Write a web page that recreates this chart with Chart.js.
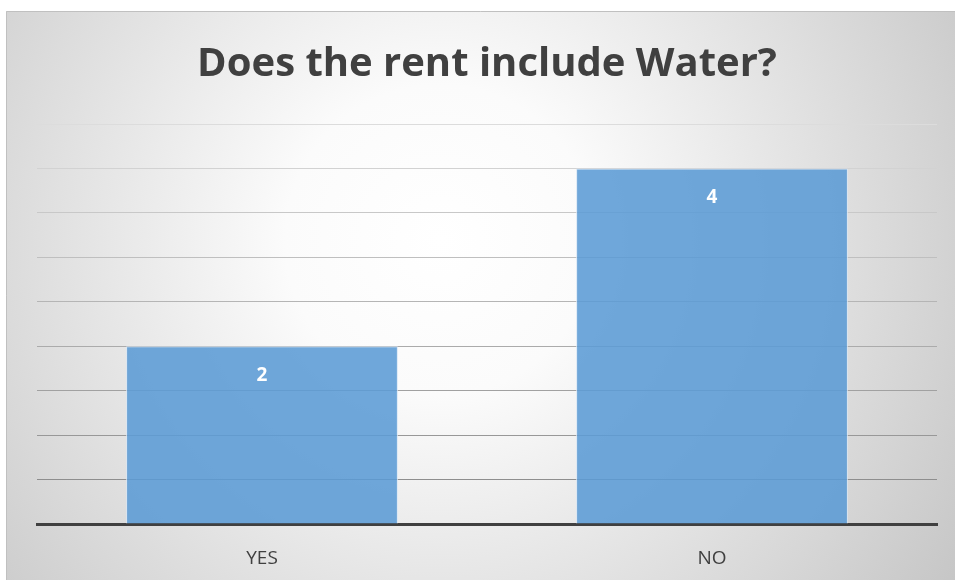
<!DOCTYPE html>
<html>
<head>
<meta charset="utf-8">
<script src="https://cdn.jsdelivr.net/npm/chart.js@4/dist/chart.umd.min.js"></script>
<style>
  html, body { margin: 0; padding: 0; background: #fff; }
  #wrap { width: 955px; height: 580px; }
</style>
</head>
<body>
<div id="wrap"><canvas id="grafico"></canvas></div>
<script>
const categorias = ['YES', 'NO'];
const respuestas = [2, 4];
const titulo = 'Does the rent include Water?';

// fondo con degradado radial y borde fino arriba/izquierda
const fondo = {
    id: 'fondo',
    beforeDraw(chart) {
        const ctx = chart.ctx;
        const w = chart.width, h = chart.height;
        ctx.save();
        ctx.fillStyle = '#ffffff';
        ctx.fillRect(0, 0, w, h);
        const g = ctx.createRadialGradient(440, 240, 0, 440, 240, 620);
        g.addColorStop(0, '#ffffff');
        g.addColorStop(0.25, '#fbfbfb');
        g.addColorStop(1, '#c6c6c6');
        ctx.fillStyle = g;
        ctx.fillRect(6, 11, w - 6, h - 11);
        ctx.strokeStyle = '#c0c0c0';
        ctx.lineWidth = 1;
        ctx.beginPath();
        ctx.moveTo(6.5, h);
        ctx.lineTo(6.5, 11.5);
        ctx.lineTo(w, 11.5);
        ctx.stroke();
        ctx.restore();
    }
};

// valor dentro de cada barra, cerca del borde superior
const etiquetas = {
    id: 'etiquetas',
    afterDatasetsDraw(chart) {
        const ctx = chart.ctx;
        const meta = chart.getDatasetMeta(0);
        ctx.save();
        ctx.fillStyle = '#ffffff';
        ctx.font = 'bold 19px "Open Sans"';
        ctx.textAlign = 'center';
        ctx.textBaseline = 'middle';
        meta.data.forEach((barra, i) => {
            ctx.fillText(String(respuestas[i]), barra.x, barra.y + 29);
        });
        ctx.restore();
    }
};

function colorRejilla(ctx) {
    // lineas mas oscuras abajo, mas claras arriba
    const n = 9;
    const t = Math.min(ctx.index, n) / n;
    const v = Math.round(0x84 + (0xdc - 0x84) * t);
    return `rgb(${v},${v},${v})`;
}

const chart = new Chart(document.getElementById('grafico').getContext('2d'), {
    type: 'bar',
    data: {
        labels: categorias,
        datasets: [{
            data: respuestas,
            backgroundColor: 'rgba(91,155,213,0.88)',
            borderColor: 'rgba(215,230,245,0.9)',
            borderWidth: { left: 1, right: 1, top: 1, bottom: 0 },
            categoryPercentage: 1,
            barPercentage: 0.604
        }]
    },
    options: {
        responsive: true,
        maintainAspectRatio: false,
        animation: false,
        layout: { padding: { left: 37, right: 18, top: 0, bottom: 14 } },
        plugins: {
            legend: { display: false },
            tooltip: { enabled: false },
            title: {
                display: true,
                text: titulo,
                color: '#404040',
                font: { family: '"Open Sans"', size: 40, weight: 'bold', lineHeight: 1.2 },
                padding: { top: 41, bottom: 35 }
            }
        },
        scales: {
            x: {
                grid: { display: false, drawTicks: false },
                border: { display: true, color: '#404040', width: 3 },
                ticks: {
                    color: '#404040',
                    font: { family: '"Open Sans"', size: 19 },
                    padding: 23
                },
                afterFit(scale) { scale.height = 42; }
            },
            y: {
                min: 0,
                max: 4.5,
                ticks: { display: false, stepSize: 0.5 },
                grid: { color: colorRejilla, lineWidth: 1, drawTicks: false },
                border: { display: false }
            }
        }
    },
    plugins: [fondo, etiquetas]
});
</script>
</body>
</html>
